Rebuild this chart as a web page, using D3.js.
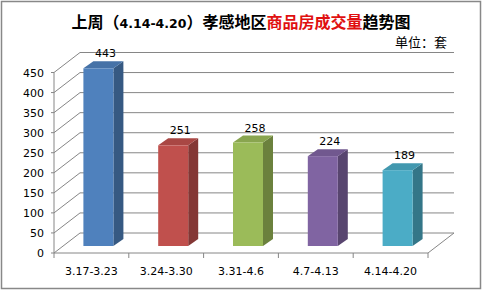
<!DOCTYPE html>
<html><head><meta charset="utf-8">
<script src="https://cdn.jsdelivr.net/npm/d3@7"></script>
<style>html,body{margin:0;padding:0;background:#fff;}</style>
</head><body>
<svg id="c" width="483" height="291"></svg>
<script>
const categories = ["3.17-3.23","3.24-3.30","3.31-4.6","4.7-4.13","4.14-4.20"];
const values = [443, 251, 258, 224, 189];
const colors = ["#4F81BD","#C0504D","#9BBB59","#8064A2","#4BACC6"];
const yTicks = [0,50,100,150,200,250,300,350,400,450];
const titleParts = [["上周（",false,false],["4.14-4.20",false,true],["）孝感地区",false,false],["商品房成交量",true,false],["趋势图",false,false]];
const unitLabel = "单位：套";

const svg = d3.select("#c");
const W = 483, H = 291;
const gridColor = "#868686";
const font = "'DejaVu Sans', sans-serif";
const cjk = "'Noto Sans CJK SC', sans-serif";

svg.append("rect").attr("x",1.5).attr("y",1.5).attr("width",479).attr("height",287)
  .attr("fill","#fff").attr("stroke","#888").attr("stroke-width",1.5);

const x = d3.scaleBand().domain(categories).range([54, 428]).padding(0);
const y = d3.scaleLinear().domain([0, 450]).range([253, 72.5]);
const DX = 26, DY = -20;    // wall depth
const bdx = 10, bdy = -7;   // bar depth offset / half-depth
const faceW = 30;

const g = svg.append("g");
// back wall gridlines + left wall diagonals
yTicks.forEach(v => {
  const yy = y(v);
  g.append("line").attr("x1",54).attr("y1",yy).attr("x2",54+DX).attr("y2",yy+DY)
    .attr("stroke",gridColor).attr("stroke-width",1);
  g.append("line").attr("x1",54+DX).attr("y1",yy+DY).attr("x2",428+DX).attr("y2",yy+DY)
    .attr("stroke",gridColor).attr("stroke-width",1);
  g.append("line").attr("x1",51).attr("y1",yy).attr("x2",54).attr("y2",yy)
    .attr("stroke",gridColor);
  g.append("text").attr("x",44).attr("y",yy+4).attr("text-anchor","end")
    .attr("font-family",font).attr("font-size",11).attr("fill","#000").text(v);
});
// floor
g.append("line").attr("x1",54).attr("y1",y(0)).attr("x2",428).attr("y2",y(0)).attr("stroke",gridColor);
g.append("line").attr("x1",428).attr("y1",y(0)).attr("x2",428+DX).attr("y2",y(0)+DY).attr("stroke",gridColor);
// vertical axis
g.append("line").attr("x1",54).attr("y1",y(450)).attr("x2",54).attr("y2",y(0)).attr("stroke",gridColor);
// x ticks
const bounds = categories.map(c => x(c)).concat([x(categories[categories.length-1]) + x.bandwidth()]);
bounds.forEach(bx => {
  g.append("line").attr("x1",bx).attr("y1",y(0)).attr("x2",bx).attr("y2",y(0)+5).attr("stroke",gridColor);
});
// category labels
categories.forEach(c => {
  g.append("text").attr("x",x(c)+x.bandwidth()/2).attr("y",275).attr("text-anchor","middle")
    .attr("font-family",font).attr("font-size",11).attr("fill","#000").text(c);
});

// bars
categories.forEach((c,i) => {
  const v = values[i];
  const col = d3.color(colors[i]);
  const fx = x(c) + x.bandwidth()/2 - 8;
  const top = y(v) + bdy;
  const bot = y(0) + bdy;
  const side = col.darker(1.05).formatHex();
  const topc = col.darker(0.35).formatHex();
  // side
  g.append("path").attr("d",`M${fx+faceW},${bot} L${fx+faceW+bdx},${bot+bdy} L${fx+faceW+bdx},${top+bdy} L${fx+faceW},${top} Z`)
    .attr("fill",side);
  // top
  g.append("path").attr("d",`M${fx},${top} L${fx+bdx},${top+bdy} L${fx+faceW+bdx},${top+bdy} L${fx+faceW},${top} Z`)
    .attr("fill",topc);
  // front
  g.append("rect").attr("x",fx).attr("y",top).attr("width",faceW).attr("height",bot-top)
    .attr("fill",col.formatHex());
  // value label
  g.append("text").attr("x",fx+faceW/2+7).attr("y",top+bdy-4).attr("text-anchor","middle")
    .attr("font-family",font).attr("font-size",11).attr("fill","#000").text(v);
});

// title
const t = svg.append("text").attr("x",241).attr("y",28).attr("text-anchor","middle")
  .attr("font-family",cjk).attr("font-size",16).attr("font-weight","bold");
titleParts.forEach(([s,red,latin]) => {
  const ts = t.append("tspan").text(s).attr("fill", red ? "#E01010" : "#000");
  if (latin) ts.attr("font-family",font).attr("font-size",12.5);
});
svg.append("text").attr("x",447).attr("y",47).attr("text-anchor","end")
  .attr("font-family",cjk).attr("font-size",13).attr("fill","#000").text(unitLabel);
</script>
</body></html>
